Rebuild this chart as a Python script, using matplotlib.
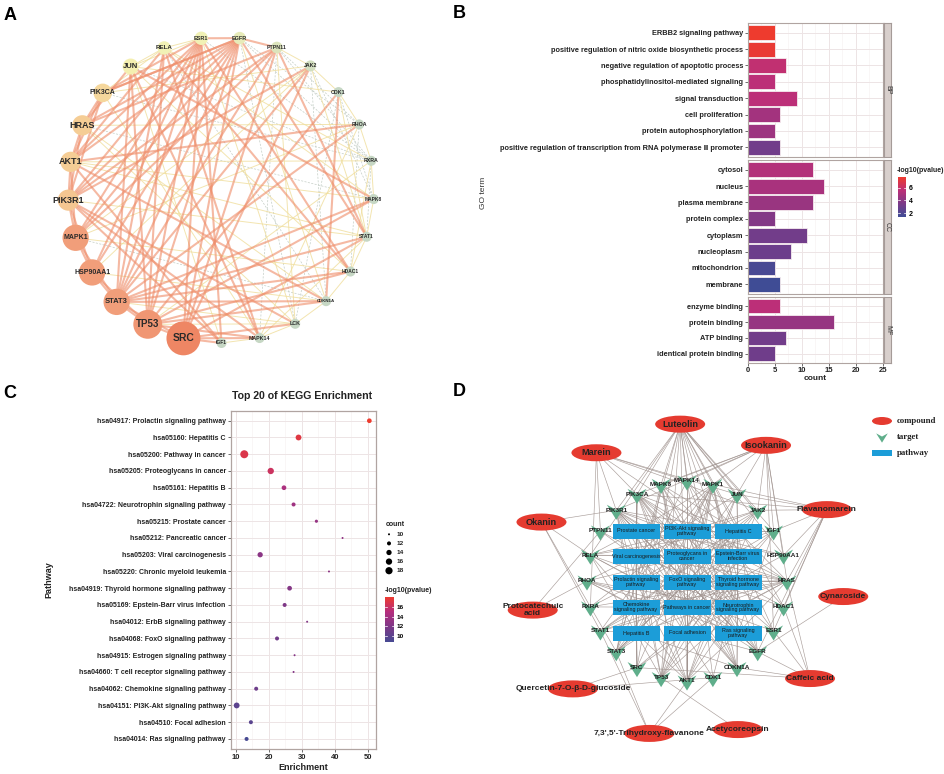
import numpy as np
import matplotlib
matplotlib.use('Agg')
import matplotlib.pyplot as plt
from matplotlib.patches import Circle, Ellipse, Rectangle
from matplotlib.path import Path
from matplotlib.colors import LinearSegmentedColormap, Normalize
from matplotlib.colorbar import ColorbarBase

plt.rcParams['font.family'] = ['Liberation Sans', 'DejaVu Sans']

W, H = 945, 774

# ---------------- A: PPI network ----------------
ppi_nodes = ['SRC', 'TP53', 'STAT3', 'HSP90AA1', 'MAPK1', 'PIK3R1', 'AKT1', 'HRAS', 'PIK3CA',
             'JUN', 'RELA', 'ESR1', 'EGFR', 'PTPN11', 'JAK2', 'CDK1', 'RHOA', 'RXRA', 'MAPK8',
             'STAT1', 'HDAC1', 'CDKN1A', 'LCK', 'MAPK14', 'IGF1']
ppi_degree = [20, 17, 15.5, 15.5, 15.5, 12.5, 12, 12, 11, 9.5, 8, 8, 7.5, 7, 6.6, 6, 6, 6, 6,
              6, 6, 6, 6, 6, 6]
ppi_label_size = [7.5, 7, 5.5, 5, 5, 6.5, 6.5, 6.5, 5, 5.5, 4.5, 4, 4, 3.8, 3.8, 3.8, 3.8, 3.8,
                  3.5, 3.5, 3.5, 3.2, 3.8, 3.8, 3.5]
ppi_strong = [
    ('SRC', 'TP53'), ('TP53', 'STAT3'), ('STAT3', 'HSP90AA1'), ('HSP90AA1', 'MAPK1'),
    ('MAPK1', 'PIK3R1'), ('PIK3R1', 'AKT1'), ('AKT1', 'HRAS'), ('HRAS', 'PIK3CA'),
    ('ESR1', 'EGFR'), ('EGFR', 'PTPN11'), ('SRC', 'IGF1'), ('SRC', 'MAPK14'), ('SRC', 'STAT3'),
    ('TP53', 'HSP90AA1'), ('STAT3', 'MAPK1'), ('PIK3R1', 'HRAS'), ('PIK3R1', 'PIK3CA'),
    ('AKT1', 'PIK3CA'), ('MAPK1', 'AKT1'), ('HSP90AA1', 'PIK3R1'),
    ('ESR1', 'SRC'), ('ESR1', 'TP53'), ('ESR1', 'STAT3'), ('ESR1', 'HSP90AA1'), ('ESR1', 'AKT1'),
    ('ESR1', 'PIK3R1'), ('ESR1', 'MAPK1'), ('ESR1', 'HDAC1'), ('ESR1', 'IGF1'),
    ('EGFR', 'SRC'), ('EGFR', 'STAT3'), ('EGFR', 'PIK3R1'), ('EGFR', 'PIK3CA'), ('EGFR', 'HRAS'),
    ('EGFR', 'TP53'), ('EGFR', 'STAT1'), ('EGFR', 'MAPK1'), ('EGFR', 'AKT1'), ('EGFR', 'HSP90AA1'),
    ('PTPN11', 'STAT1'), ('PTPN11', 'SRC'), ('PTPN11', 'PIK3R1'), ('PTPN11', 'HRAS'),
    ('PTPN11', 'STAT3'), ('PTPN11', 'MAPK1'),
    ('JAK2', 'STAT3'), ('JAK2', 'SRC'), ('JAK2', 'PIK3R1'),
    ('RELA', 'STAT3'), ('RELA', 'TP53'), ('RELA', 'HDAC1'), ('RELA', 'AKT1'), ('RELA', 'MAPK14'),
    ('JUN', 'MAPK8'), ('JUN', 'STAT3'), ('JUN', 'TP53'), ('JUN', 'HRAS'), ('JUN', 'MAPK14'),
    ('PIK3CA', 'ESR1'), ('PIK3CA', 'EGFR'), ('RHOA', 'AKT1'), ('RHOA', 'STAT3'),
    ('CDK1', 'CDKN1A'), ('CDK1', 'TP53'), ('MAPK8', 'TP53'), ('MAPK8', 'STAT3'),
    ('STAT1', 'STAT3'), ('STAT1', 'SRC'), ('HDAC1', 'TP53'), ('HDAC1', 'STAT3'),
    ('CDKN1A', 'TP53'), ('CDKN1A', 'STAT3'), ('CDKN1A', 'AKT1'), ('LCK', 'SRC'), ('LCK', 'PIK3R1'),
    ('MAPK14', 'TP53'), ('MAPK14', 'PIK3R1'), ('IGF1', 'PIK3R1'), ('IGF1', 'AKT1'),
]
ppi_weak = [
    ('RELA', 'PIK3CA'), ('JUN', 'RELA'), ('RELA', 'ESR1'), ('JUN', 'ESR1'), ('JAK2', 'PTPN11'),
    ('JAK2', 'CDK1'), ('CDK1', 'RHOA'), ('RHOA', 'RXRA'), ('RXRA', 'MAPK8'), ('MAPK8', 'STAT1'),
    ('STAT1', 'HDAC1'), ('HDAC1', 'CDKN1A'), ('CDKN1A', 'LCK'), ('LCK', 'MAPK14'),
    ('MAPK14', 'IGF1'), ('JAK2', 'STAT1'), ('RXRA', 'HDAC1'), ('HRAS', 'RHOA'), ('AKT1', 'RXRA'),
    ('PIK3CA', 'JAK2'), ('JUN', 'CDK1'), ('RELA', 'MAPK8'), ('HRAS', 'LCK'), ('PIK3R1', 'STAT1'),
    ('MAPK1', 'HDAC1'), ('HSP90AA1', 'CDKN1A'), ('STAT3', 'LCK'), ('TP53', 'LCK'),
    ('AKT1', 'MAPK8'), ('MAPK1', 'RHOA'), ('HSP90AA1', 'JAK2'), ('TP53', 'RXRA'), ('JUN', 'IGF1'),
    ('ESR1', 'LCK'), ('EGFR', 'CDKN1A'), ('PTPN11', 'LCK'), ('PIK3CA', 'MAPK14'),
    ('HRAS', 'CDKN1A'), ('STAT1', 'MAPK14'), ('RHOA', 'MAPK14'), ('CDK1', 'STAT1'),
    ('RELA', 'RXRA'), ('JUN', 'HDAC1'), ('AKT1', 'STAT1'), ('MAPK1', 'JAK2'),
]
ppi_dashed = [
    ('JAK2', 'CDKN1A'), ('EGFR', 'RXRA'), ('PTPN11', 'RHOA'), ('CDK1', 'LCK'), ('RHOA', 'HDAC1'),
    ('RXRA', 'STAT1'), ('ESR1', 'RXRA'), ('EGFR', 'LCK'), ('RELA', 'CDKN1A'), ('JUN', 'RXRA'),
    ('PIK3CA', 'RXRA'), ('HRAS', 'MAPK8'), ('MAPK1', 'CDKN1A'), ('PTPN11', 'MAPK14'),
    ('JAK2', 'MAPK8'), ('CDK1', 'MAPK8'), ('EGFR', 'RHOA'), ('PTPN11', 'RXRA'),
]

# ---------------- B: GO enrichment ----------------
go_terms = ['ERBB2 signaling pathway',
            'positive regulation of nitric oxide biosynthetic process',
            'negative regulation of apoptotic process',
            'phosphatidylinositol-mediated signaling',
            'signal transduction', 'cell proliferation', 'protein autophosphorylation',
            'positive regulation of transcription from RNA polymerase \u2161 promoter',
            'cytosol', 'nucleus', 'plasma membrane', 'protein complex', 'cytoplasm',
            'nucleoplasm', 'mitochondrion', 'membrane',
            'enzyme binding', 'protein binding', 'ATP binding', 'identical protein binding']
go_category = ['BP'] * 8 + ['CC'] * 8 + ['MF'] * 4
go_count = [5, 5, 7, 5, 9, 6, 5, 6, 12, 14, 12, 5, 11, 8, 5, 6, 6, 16, 7, 5]
go_logp = [7.7, 7.5, 5.8, 5.6, 5.6, 4.8, 4.6, 3.2, 5.3, 5.0, 4.5, 3.8, 3.2, 3.0, 1.8, 1.4,
           5.6, 4.4, 3.2, 3.1]

# ---------------- C: KEGG enrichment ----------------
kegg_terms = ['hsa04917: Prolactin signaling pathway', 'hsa05160: Hepatitis C',
              'hsa05200: Pathway in cancer', 'hsa05205: Proteoglycans in cancer',
              'hsa05161: Hepatitis B', 'hsa04722: Neurotrophin signaling pathway',
              'hsa05215: Prostate cancer', 'hsa05212: Pancreatic cancer',
              'hsa05203: Viral carcinogenesis', 'hsa05220: Chronic myeloid leukemia',
              'hsa04919: Thyroid hormone signaling pathway',
              'hsa05169: Epstein-Barr virus infection', 'hsa04012: ErbB signaling pathway',
              'hsa04068: FoxO signaling pathway', 'hsa04915: Estrogen signaling pathway',
              'hsa04660: T cell receptor signaling pathway',
              'hsa04062: Chemokine signaling pathway', 'hsa04151: PI3K-Akt signaling pathway',
              'hsa04510: Focal adhesion', 'hsa04014: Ras signaling pathway']
kegg_enrichment = [50.4, 29.0, 12.6, 20.6, 24.6, 27.5, 34.4, 42.3, 17.4, 38.2, 26.3, 24.8,
                   31.6, 22.5, 27.8, 27.5, 16.2, 10.3, 14.6, 13.3]
kegg_count = [13, 15, 20, 16, 13, 12, 11, 10, 14, 10, 13, 12, 10, 12, 10, 10, 12, 15, 12, 12]
kegg_logp = [18.1, 17.3, 17.0, 16.2, 14.5, 13.8, 13.3, 13.0, 12.7, 12.8, 12.3, 12.0, 12.2,
             11.2, 12.4, 12.3, 11.0, 10.0, 9.9, 8.8]

# ---------------- D: compound-target-pathway network ----------------
compounds = ['Luteolin', 'Isookanin', 'Flavanomarein', 'Cynaroside', 'Caffeic acid',
             'Acetycoreopsin', "7,3',5'-Trihydroxy-flavanone", 'Quercetin-7-O-\u03b2-D-glucoside',
             'Protocatechuic\nacid', 'Okanin', 'Marein']
targets = ['AKT1', 'CDK1', 'CDKN1A', 'EGFR', 'ESR1', 'HDAC1', 'HRAS', 'HSP90AA1', 'IGF1', 'JAK2',
           'JUN', 'MAPK1', 'MAPK14', 'MAPK8', 'PIK3CA', 'PIK3R1', 'PTPN11', 'RELA', 'RHOA',
           'RXRA', 'STAT1', 'STAT3', 'SRC', 'TP53']
pathways = ['Prostate cancer', 'PI3K-Akt signaling\npathway', 'Hepatitis C',
            'Viral carcinogenesis', 'Proteoglycans in\ncancer', 'Epstein-Barr virus\ninfection',
            'Prolactin signaling\npathway', 'FoxO signaling\npathway',
            'Thyroid hormone\nsignaling pathway', 'Chemokine\nsignaling pathway',
            'Pathways in cancer', 'Neurotrophin\nsignaling pathway', 'Hepatitis B',
            'Focal adhesion', 'Ras signaling\npathway']
compound_targets = [
    ['AKT1', 'EGFR', 'ESR1', 'HSP90AA1', 'IGF1', 'JUN', 'MAPK1', 'MAPK14', 'MAPK8', 'PIK3CA',
     'PIK3R1', 'RELA', 'SRC', 'STAT3', 'TP53', 'CDKN1A', 'CDK1', 'HDAC1', 'JAK2'],
    ['MAPK8', 'MAPK14', 'MAPK1', 'JUN', 'PIK3CA', 'PIK3R1', 'JAK2', 'IGF1', 'HSP90AA1', 'HRAS',
     'ESR1'],
    ['JUN', 'JAK2', 'IGF1', 'HSP90AA1', 'HRAS', 'HDAC1', 'ESR1', 'PIK3CA', 'MAPK1', 'EGFR'],
    ['EGFR'],
    ['ESR1', 'EGFR', 'HDAC1', 'CDKN1A', 'HRAS', 'SRC'],
    ['TP53'],
    ['STAT3', 'STAT1', 'AKT1', 'CDK1'],
    ['SRC', 'CDK1'],
    ['RHOA', 'PTPN11'],
    ['PIK3R1', 'RELA', 'STAT1', 'STAT3'],
    ['PIK3R1', 'PTPN11', 'PIK3CA', 'MAPK14', 'JUN', 'JAK2', 'HRAS', 'RXRA'],
]
pathway_targets = [
    ['AKT1', 'EGFR', 'HRAS', 'HSP90AA1', 'IGF1', 'MAPK1', 'PIK3CA', 'PIK3R1', 'RELA', 'TP53', 'CDKN1A'],
    ['AKT1', 'CDKN1A', 'EGFR', 'HRAS', 'HSP90AA1', 'IGF1', 'JAK2', 'MAPK1', 'PIK3CA', 'PIK3R1',
     'RELA', 'RXRA', 'TP53'],
    ['AKT1', 'CDKN1A', 'EGFR', 'HRAS', 'MAPK1', 'MAPK14', 'MAPK8', 'PIK3CA', 'PIK3R1', 'RELA',
     'RXRA', 'STAT1', 'STAT3', 'TP53'],
    ['CDK1', 'CDKN1A', 'HDAC1', 'HRAS', 'JAK2', 'JUN', 'MAPK1', 'PIK3CA', 'PIK3R1', 'RELA',
     'RHOA', 'SRC', 'STAT3', 'TP53'],
    ['AKT1', 'CDKN1A', 'EGFR', 'ESR1', 'HRAS', 'IGF1', 'MAPK1', 'MAPK14', 'PIK3CA', 'PIK3R1',
     'RHOA', 'SRC', 'STAT3', 'TP53'],
    ['AKT1', 'CDKN1A', 'HDAC1', 'JAK2', 'JUN', 'MAPK14', 'MAPK8', 'PIK3CA', 'PIK3R1', 'RELA',
     'STAT1', 'STAT3', 'TP53'],
    ['AKT1', 'ESR1', 'HRAS', 'JAK2', 'MAPK1', 'MAPK14', 'MAPK8', 'PIK3CA', 'PIK3R1', 'SRC',
     'STAT1', 'STAT3'],
    ['AKT1', 'CDKN1A', 'EGFR', 'HRAS', 'IGF1', 'MAPK1', 'MAPK14', 'MAPK8', 'PIK3CA', 'PIK3R1', 'STAT3'],
    ['AKT1', 'ESR1', 'HDAC1', 'HRAS', 'MAPK1', 'PIK3CA', 'PIK3R1', 'RXRA', 'SRC', 'STAT1', 'TP53', 'CDK1'],
    ['AKT1', 'HRAS', 'JAK2', 'MAPK1', 'PIK3CA', 'PIK3R1', 'RELA', 'RHOA', 'SRC', 'STAT1', 'STAT3'],
    ['AKT1', 'CDKN1A', 'EGFR', 'HRAS', 'HSP90AA1', 'IGF1', 'JAK2', 'JUN', 'MAPK1', 'MAPK8',
     'PIK3CA', 'PIK3R1', 'RELA', 'RHOA', 'RXRA', 'STAT1', 'STAT3', 'TP53'],
    ['AKT1', 'HRAS', 'JUN', 'MAPK1', 'MAPK14', 'MAPK8', 'PIK3CA', 'PIK3R1', 'PTPN11', 'RELA',
     'RHOA', 'TP53'],
    ['AKT1', 'CDKN1A', 'HRAS', 'JAK2', 'JUN', 'MAPK1', 'MAPK8', 'PIK3CA', 'PIK3R1', 'RELA',
     'SRC', 'STAT1', 'STAT3', 'TP53'],
    ['AKT1', 'EGFR', 'HRAS', 'IGF1', 'JUN', 'MAPK1', 'MAPK8', 'PIK3CA', 'PIK3R1', 'RHOA', 'SRC'],
    ['AKT1', 'EGFR', 'HRAS', 'IGF1', 'MAPK1', 'MAPK8', 'PIK3CA', 'PIK3R1', 'PTPN11', 'RELA', 'RHOA'],
]

# ---------------- figure ----------------
fig = plt.figure(figsize=(W / 100, H / 100), dpi=100)


def rect(x0, y0, x1, y1):
    return [x0 / W, 1 - y1 / H, (x1 - x0) / W, (y1 - y0) / H]


def ftext(x, y, s, **kw):
    fig.text(x / W, 1 - y / H, s, **kw)


# overlay axes in pixel units for the two networks and legends
ov = fig.add_axes([0, 0, 1, 1])
ov.set_xlim(0, W)
ov.set_ylim(H, 0)
ov.axis('off')

# ---- A ----
a_cx, a_cy, a_r = 221, 190, 153
ang = np.deg2rad(-104.2 - 360 / len(ppi_nodes) * np.arange(len(ppi_nodes)))
a_pos = {n: (a_cx + a_r * np.cos(t), a_cy - a_r * np.sin(t)) for n, t in zip(ppi_nodes, ang)}

for u, v in ppi_dashed:
    ov.plot([a_pos[u][0], a_pos[v][0]], [a_pos[u][1], a_pos[v][1]], color='#C4CEC6',
            lw=0.5, ls=(0, (3, 2)), zorder=1)
for u, v in ppi_weak:
    ov.plot([a_pos[u][0], a_pos[v][0]], [a_pos[u][1], a_pos[v][1]], color='#F0DE9C',
            lw=0.7, alpha=0.8, zorder=1)
for u, v in ppi_strong:
    ov.plot([a_pos[u][0], a_pos[v][0]], [a_pos[u][1], a_pos[v][1]], color='#EF8E6B',
            lw=1.5, alpha=0.62, zorder=2)

node_cmap = LinearSegmentedColormap.from_list('ppi', [
    (0, '#C6D7C4'), (0.14, '#F1F1B5'), (0.25, '#F4EFB0'), (0.36, '#F5D69B'),
    (0.45, '#F5CA93'), (0.57, '#F2A682'), (1, '#EE8664')])
dnorm = Normalize(6, 20)
for n, d, fs in zip(ppi_nodes, ppi_degree, ppi_label_size):
    x, y = a_pos[n]
    r = 5 + (d - 6) * 12 / 14
    ov.add_patch(Circle((x, y), r, fc=node_cmap(dnorm(d)), ec='none', zorder=3))
    ov.text(x, y, n, fontsize=fs, fontweight='bold', color='#2a2a2a', ha='center',
            va='center', zorder=4)

# ---- B ----
cmap_go = LinearSegmentedColormap.from_list('go', ['#3F4C95', '#7A3A88', '#BC2F78', '#EE3B2E'])
norm_go = Normalize(min(go_logp), max(go_logp))
for name, y0, y1 in [('BP', 23, 157), ('CC', 160, 294), ('MF', 297, 363)]:
    idx = [i for i, c in enumerate(go_category) if c == name]
    n = len(idx)
    ypos = np.arange(n, 0, -1)
    ax = fig.add_axes(rect(748, y0, 883, y1))
    ax.barh(ypos, [go_count[i] for i in idx], height=0.9,
            color=[cmap_go(norm_go(go_logp[i])) for i in idx],
            edgecolor='#F6ECEF', linewidth=0.6, zorder=2)
    ax.set_xlim(0, 25)
    ax.set_ylim(0.4, n + 0.6)
    ax.set_xticks(range(0, 26, 5))
    ax.set_xticks(np.arange(2.5, 25, 5), minor=True)
    ax.set_yticks(ypos)
    ax.set_yticklabels([go_terms[i] for i in idx], fontsize=5.3, fontweight='bold', color='#222222')
    ax.grid(which='major', color='#EDE4E5', lw=0.7)
    ax.grid(which='minor', axis='x', color='#F5EFEF', lw=0.4)
    ax.set_axisbelow(True)
    ax.tick_params(axis='y', length=2, width=0.5, pad=1.5, color='#333333')
    ax.tick_params(which='minor', length=0)
    for sp in ax.spines.values():
        sp.set_color('#B0A4A1')
        sp.set_linewidth(0.8)
    if name != 'MF':
        ax.tick_params(axis='x', which='both', length=0, labelbottom=False)
    else:
        ax.tick_params(axis='x', labelsize=5.5, length=2, width=0.5, pad=1, color='#333333')
        for lab in ax.get_xticklabels():
            lab.set_fontweight('bold')
            lab.set_color('#222222')
    st = fig.add_axes(rect(884, y0, 891, y1))
    st.set_facecolor('#D8CFCC')
    st.set_xticks([])
    st.set_yticks([])
    for sp in st.spines.values():
        sp.set_color('#A59B98')
        sp.set_linewidth(0.8)
    st.text(0.5, 0.5, name, rotation=-90, ha='center', va='center', fontsize=5,
            color='#333333', transform=st.transAxes)

ftext(484, 193, 'GO term', rotation=90, ha='center', va='center', fontsize=6, color='#333333')
ftext(815, 379, 'count', ha='center', va='center', fontsize=6, fontweight='bold', color='#222222')
ftext(897, 170, '-log10(pvalue)', ha='left', va='center', fontsize=5, fontweight='bold',
      color='#222222')
cax = fig.add_axes(rect(898, 177, 906, 217))
cb = ColorbarBase(cax, cmap=cmap_go, norm=norm_go, ticks=[2, 4, 6])
cb.outline.set_visible(False)
cax.tick_params(length=0, labelsize=5, pad=2)
for lab in cax.get_yticklabels():
    lab.set_fontweight('bold')
for t in [2, 4, 6]:
    cax.plot([0, 0.2], [t, t], color='white', lw=0.5)
    cax.plot([0.8, 1], [t, t], color='white', lw=0.5)

# ---- C ----
cmap_kg = LinearSegmentedColormap.from_list('kg', ['#474A92', '#7D3887', '#B52E7E', '#EE3B2E'])
norm_kg = Normalize(min(kegg_logp), max(kegg_logp))


def dot_size(c):
    d_px = np.sqrt(4 + (np.asarray(c, float) - 10) / 10 * 60)
    return (d_px * 0.72) ** 2


axc = fig.add_axes(rect(230.7, 410.7, 376.3, 749))
nk = len(kegg_terms)
ky = np.arange(nk, 0, -1)
axc.scatter(kegg_enrichment, ky, s=dot_size(kegg_count), c=kegg_logp, cmap=cmap_kg,
            norm=norm_kg, edgecolors='none', zorder=3)
axc.set_xlim(8.5, 52.5)
axc.set_ylim(0.4, nk + 0.6)
axc.set_xticks([10, 20, 30, 40, 50])
axc.set_xticks([15, 25, 35, 45], minor=True)
axc.set_yticks(ky)
axc.set_yticklabels(kegg_terms, fontsize=5, fontweight='bold', color='#222222')
axc.grid(which='major', color='#EDE4E5', lw=0.7)
axc.grid(which='minor', axis='x', color='#F5EFEF', lw=0.4)
axc.set_axisbelow(True)
axc.tick_params(axis='both', length=2, width=0.5, pad=1.5, color='#333333')
axc.tick_params(axis='x', labelsize=5.5)
axc.tick_params(which='minor', length=0)
for lab in axc.get_xticklabels():
    lab.set_fontweight('bold')
    lab.set_color('#222222')
for sp in axc.spines.values():
    sp.set_color('#B0A4A1')
    sp.set_linewidth(0.9)

ftext(302, 396, 'Top 20 of KEGG Enrichment', ha='center', va='center', fontsize=7.6,
      fontweight='bold', color='#222222')
ftext(303, 767, 'Enrichment', ha='center', va='center', fontsize=6.5, fontweight='bold',
      color='#222222')
ftext(49, 580, 'Pathway', rotation=90, ha='center', va='center', fontsize=6.5,
      fontweight='bold', color='#222222')

ftext(386, 525, 'count', ha='left', va='center', fontsize=5, fontweight='bold', color='#222222')
leg_counts = [10, 12, 14, 16, 18]
for k, c in enumerate(leg_counts):
    yy = 534.3 + k * 9.1
    ov.scatter([389], [yy], s=dot_size(c), color='black', edgecolors='none', zorder=5)
    ov.text(397, yy, str(c), fontsize=4.6, fontweight='bold', color='#222222', va='center',
            ha='left')
ftext(385, 590, '-log10(pvalue)', ha='left', va='center', fontsize=5, fontweight='bold',
      color='#222222')
cax2 = fig.add_axes(rect(385, 596.7, 393.7, 642))
cb2 = ColorbarBase(cax2, cmap=cmap_kg, norm=norm_kg, ticks=[10, 12, 14, 16])
cb2.outline.set_visible(False)
cax2.tick_params(length=0, labelsize=4.6, pad=2)
for lab in cax2.get_yticklabels():
    lab.set_fontweight('bold')
for t in [10, 12, 14, 16]:
    cax2.plot([0, 0.2], [t, t], color='white', lw=0.5)
    cax2.plot([0.8, 1], [t, t], color='white', lw=0.5)

# ---- D ----
d_cx, d_cy = 687, 581
t_ang = np.deg2rad(270 + 360 / len(targets) * np.arange(len(targets)))
t_pos = {n: (d_cx + 100 * np.cos(t), d_cy - 100 * np.sin(t)) for n, t in zip(targets, t_ang)}
c_ang = np.deg2rad(92.5 - 360 / len(compounds) * np.arange(len(compounds)))
c_pos = [(d_cx + 157 * np.cos(t), d_cy - 157 * np.sin(t)) for t in c_ang]
p_pos = [(d_cx + (k % 3 - 1) * 51, d_cy + 1 + (k // 3 - 2) * 25.5) for k in range(len(pathways))]

edge_kw = dict(color='#A0938F', lw=0.45, alpha=0.9, zorder=1)
for (px, py), tl in zip(p_pos, pathway_targets):
    for t in tl:
        ov.plot([px, t_pos[t][0]], [py, t_pos[t][1]], **edge_kw)
for (cx, cy), tl in zip(c_pos, compound_targets):
    for t in tl:
        ov.plot([cx, t_pos[t][0]], [cy, t_pos[t][1]], **edge_kw)

for (px, py), name in zip(p_pos, pathways):
    ov.add_patch(Rectangle((px - 23.5, py - 7.5), 47, 15, fc='#1C9DD8', ec='none', zorder=3))
    ov.text(px, py, name, fontsize=3.9, color='#1a1a1a', ha='center', va='center',
            linespacing=1.0, zorder=4)

vee = Path([(-1, 0.8), (0, 0.25), (1, 0.8), (0, -0.8), (-1, 0.8)],
           [Path.MOVETO, Path.LINETO, Path.LINETO, Path.LINETO, Path.CLOSEPOLY])
for n in targets:
    x, y = t_pos[n]
    ov.scatter([x], [y + 2], marker=vee, s=185, color='#5FAE8B', edgecolors='none', zorder=4)
    ov.text(x, y, n, fontsize=4.6, fontweight='bold', color='#222222', ha='center',
            va='center', zorder=5)

for (cx, cy), name in zip(c_pos, compounds):
    ov.add_patch(Ellipse((cx, cy), 50, 17, fc='#E53B30', ec='none', zorder=4))
    fs = 6.6 if name in ('Luteolin', 'Isookanin', 'Marein', 'Okanin') else 6
    ov.text(cx, cy, name, fontsize=fs, fontweight='bold', color='#222222', ha='center',
            va='center', linespacing=0.95, zorder=5)

# legend D
ov.add_patch(Ellipse((882, 421), 20, 8, fc='#E53B30', ec='none', zorder=4))
ov.scatter([882], [438], marker=vee, s=70, color='#5FAE8B', edgecolors='none', zorder=4)
ov.add_patch(Rectangle((872, 450), 20, 6, fc='#1C9DD8', ec='none', zorder=4))
for yy, lab in [(421, 'compound'), (437, 'target'), (453, 'pathway')]:
    ov.text(897, yy, lab, fontsize=6.3, fontweight='bold', family=['Liberation Serif', 'DejaVu Serif'],
            color='#222222', ha='left', va='center')

# panel letters
for x, y, s in [(10, 15, 'A'), (459, 14, 'B'), (10, 393, 'C'), (459, 392, 'D')]:
    ftext(x, y, s, ha='center', va='center', fontsize=13, fontweight='bold', color='black')

fig.savefig('out.png', dpi=100)
